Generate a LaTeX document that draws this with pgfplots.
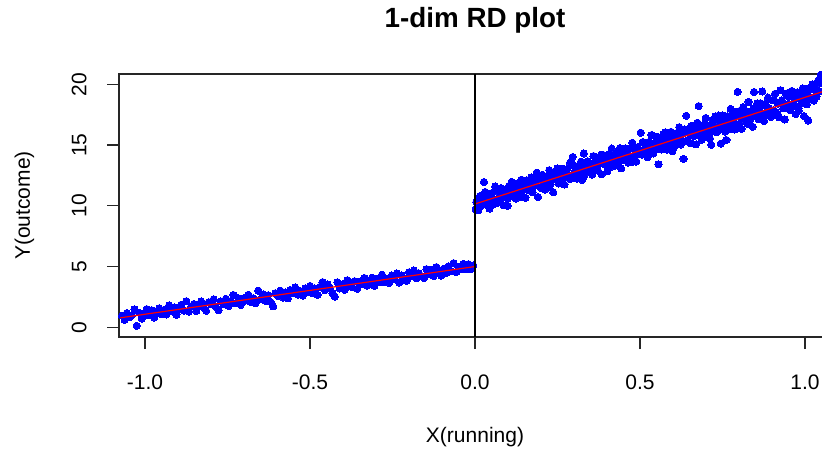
\documentclass[border=0pt]{standalone}
\usepackage{pgfplots}
\pgfplotsset{compat=1.18}
\usepackage{pgfplotstable}
\usepackage{fontspec}
\setmainfont{Liberation Sans}

\pgfplotstableread{
x y
-1.070 0.95
-1.062 0.62
-1.055 1.17
-1.047 0.84
-1.040 1.00
-1.032 1.48
-1.025 0.12
-1.017 1.18
-1.010 0.71
-1.002 1.10
-0.995 1.50
-0.987 0.98
-0.980 1.41
-0.972 0.80
-0.965 1.28
-0.957 1.57
-0.950 1.08
-0.942 1.42
-0.935 1.06
-0.927 1.81
-0.920 1.31
-0.912 1.63
-0.905 1.03
-0.897 1.49
-0.890 1.86
-0.882 1.36
-0.875 2.15
-0.867 1.30
-0.860 1.73
-0.852 1.92
-0.845 1.33
-0.837 1.76
-0.830 2.13
-0.822 1.65
-0.815 1.36
-0.807 2.07
-0.800 1.89
-0.792 2.31
-0.785 1.68
-0.777 1.40
-0.770 2.13
-0.762 1.91
-0.755 2.35
-0.747 1.75
-0.740 2.17
-0.732 2.66
-0.725 1.97
-0.717 2.39
-0.710 1.84
-0.702 2.37
-0.695 2.21
-0.687 2.68
-0.680 2.08
-0.672 2.40
-0.665 1.97
-0.657 3.02
-0.650 2.31
-0.642 2.71
-0.635 2.18
-0.627 2.64
-0.620 2.09
-0.612 1.72
-0.605 2.81
-0.597 2.58
-0.590 3.02
-0.582 2.45
-0.575 2.86
-0.567 2.38
-0.560 3.07
-0.552 2.81
-0.545 3.29
-0.537 2.68
-0.530 2.98
-0.522 2.61
-0.515 3.20
-0.507 2.89
-0.500 3.41
-0.492 2.79
-0.485 3.19
-0.477 2.67
-0.470 3.33
-0.462 3.72
-0.455 3.05
-0.447 3.53
-0.440 3.23
-0.432 2.81
-0.425 2.52
-0.417 3.71
-0.410 3.20
-0.402 3.53
-0.395 3.09
-0.387 3.88
-0.380 3.53
-0.372 3.29
-0.365 3.80
-0.357 3.17
-0.350 3.76
-0.342 3.55
-0.335 4.06
-0.327 3.42
-0.320 3.81
-0.312 4.08
-0.305 3.42
-0.297 4.00
-0.290 3.71
-0.282 4.33
-0.275 3.70
-0.267 4.00
-0.260 3.65
-0.252 4.27
-0.245 3.97
-0.237 4.43
-0.230 3.69
-0.222 4.26
-0.215 3.98
-0.207 3.82
-0.200 4.53
-0.192 4.21
-0.185 4.68
-0.177 4.04
-0.170 4.44
-0.162 4.22
-0.155 4.05
-0.147 4.79
-0.140 4.36
-0.132 4.72
-0.125 4.22
-0.117 4.96
-0.110 4.51
-0.102 4.25
-0.095 4.82
-0.087 4.48
-0.080 5.02
-0.072 4.61
-0.065 5.28
-0.057 4.54
-0.050 4.94
-0.042 4.78
-0.035 5.22
-0.027 4.77
-0.020 5.20
-0.012 4.79
-0.005 5.08
}\leftdata

\pgfplotstableread{
x y
0.002 9.72
0.006 10.43
0.010 9.63
0.015 10.81
0.019 10.37
0.023 10.07
0.027 11.96
0.031 11.14
0.036 10.35
0.040 10.84
0.044 9.77
0.048 10.66
0.052 11.07
0.057 10.30
0.061 11.60
0.065 10.54
0.069 10.24
0.073 11.07
0.078 11.46
0.082 10.83
0.086 10.05
0.090 11.33
0.094 11.10
0.099 10.00
0.103 11.64
0.107 10.78
0.111 11.97
0.115 10.95
0.120 11.35
0.124 10.58
0.128 11.72
0.132 11.33
0.136 10.87
0.141 12.15
0.145 11.28
0.149 11.77
0.153 10.67
0.157 12.09
0.162 11.30
0.166 11.70
0.170 12.33
0.174 11.11
0.178 11.93
0.183 11.67
0.187 12.73
0.191 10.72
0.195 12.23
0.199 11.49
0.204 12.56
0.208 12.02
0.212 11.33
0.216 12.33
0.220 11.90
0.225 12.94
0.229 11.79
0.233 12.33
0.237 11.12
0.241 12.76
0.246 12.25
0.250 13.07
0.254 11.84
0.258 12.60
0.262 12.17
0.267 13.06
0.271 11.75
0.275 12.60
0.279 13.03
0.283 12.48
0.288 13.55
0.292 12.27
0.296 14.02
0.300 12.71
0.304 13.16
0.309 12.24
0.313 13.09
0.317 12.69
0.321 13.63
0.325 12.13
0.330 14.31
0.334 13.15
0.338 12.73
0.342 13.67
0.346 13.07
0.351 13.47
0.355 12.56
0.359 14.10
0.363 13.01
0.367 13.49
0.372 12.90
0.376 13.90
0.380 13.50
0.384 12.59
0.388 14.20
0.393 13.39
0.397 13.93
0.401 12.85
0.405 14.24
0.409 13.68
0.414 14.71
0.418 13.38
0.422 14.03
0.426 13.32
0.430 14.31
0.435 13.82
0.439 14.75
0.443 13.08
0.447 14.34
0.451 13.78
0.456 14.73
0.460 14.25
0.464 13.56
0.468 14.70
0.472 14.07
0.477 15.19
0.481 13.89
0.485 14.55
0.489 13.64
0.493 14.84
0.498 14.41
0.502 16.02
0.506 14.22
0.510 15.24
0.514 14.65
0.519 14.98
0.523 14.00
0.527 15.26
0.531 14.56
0.535 15.83
0.540 14.34
0.544 15.02
0.548 14.65
0.552 15.69
0.556 13.41
0.561 15.29
0.565 14.64
0.569 15.71
0.573 15.11
0.577 16.05
0.582 14.62
0.586 15.62
0.590 15.15
0.594 16.09
0.598 14.50
0.603 15.63
0.607 15.12
0.611 15.99
0.615 15.53
0.619 16.48
0.624 15.05
0.628 15.92
0.632 13.86
0.636 16.28
0.640 17.41
0.645 15.40
0.649 15.97
0.653 15.16
0.657 16.59
0.661 15.79
0.666 16.31
0.670 15.06
0.674 16.84
0.678 18.21
0.682 15.86
0.687 16.60
0.691 15.61
0.695 16.31
0.699 17.23
0.703 15.89
0.708 16.59
0.712 15.55
0.716 15.02
0.720 17.07
0.724 16.40
0.729 17.36
0.733 16.06
0.737 16.99
0.741 16.42
0.745 15.11
0.750 17.45
0.754 16.86
0.758 16.12
0.762 15.42
0.766 17.38
0.771 16.61
0.775 17.98
0.779 16.93
0.783 17.41
0.787 16.28
0.792 17.74
0.796 19.38
0.800 16.72
0.804 17.38
0.808 16.33
0.813 18.13
0.817 17.15
0.821 17.81
0.825 16.77
0.829 18.55
0.834 17.13
0.838 17.78
0.842 16.50
0.846 19.37
0.850 17.40
0.855 18.42
0.859 17.12
0.863 18.06
0.867 17.63
0.871 19.41
0.876 16.98
0.880 18.40
0.884 17.53
0.888 18.91
0.892 18.03
0.897 17.32
0.901 18.69
0.905 17.84
0.909 19.22
0.913 17.69
0.918 18.40
0.922 17.28
0.926 19.52
0.930 18.69
0.934 18.03
0.939 17.11
0.943 19.17
0.947 18.36
0.951 18.97
0.955 17.87
0.960 19.46
0.964 18.41
0.968 18.94
0.972 17.55
0.976 19.34
0.981 17.82
0.985 18.94
0.989 18.41
0.993 19.67
0.997 17.38
1.002 19.29
1.006 18.35
1.010 17.02
1.014 19.61
1.018 18.92
1.023 20.00
1.027 18.65
1.031 19.62
1.035 18.98
1.040 20.31
1.044 19.44
1.048 20.78
0.004 10.31
0.015 9.93
0.025 10.85
0.036 10.39
0.046 10.82
0.057 10.13
0.067 11.37
0.078 10.64
0.088 10.97
0.099 10.61
0.109 11.47
0.120 11.08
0.130 11.86
0.141 10.73
0.151 11.69
0.162 11.30
0.172 12.10
0.183 11.71
0.193 12.53
0.204 11.56
0.214 12.18
0.225 11.56
0.235 12.53
0.246 12.15
0.256 12.92
0.267 12.20
0.277 12.67
0.288 12.21
0.298 13.38
0.309 12.75
0.319 13.20
0.330 12.43
0.340 13.57
0.351 12.99
0.361 13.45
0.372 12.93
0.382 14.21
0.393 13.53
0.403 14.03
0.414 13.23
0.424 14.09
0.435 13.64
0.445 14.64
0.456 14.01
0.466 14.65
0.477 13.63
0.487 14.60
0.498 14.26
0.508 15.25
0.519 14.28
0.529 14.87
0.540 14.31
0.550 15.35
0.561 14.90
0.571 15.89
0.582 14.91
0.592 15.54
0.603 14.80
0.613 16.00
0.624 15.54
0.634 16.00
0.645 15.30
0.655 16.56
0.666 15.78
0.676 16.21
0.687 15.44
0.697 16.80
0.708 16.06
0.718 16.69
0.729 16.08
0.739 17.43
0.750 16.61
0.760 17.20
0.771 16.30
0.781 17.17
0.792 16.74
0.802 17.81
0.813 17.10
0.823 17.67
0.834 16.70
0.844 18.01
0.855 17.58
0.865 18.45
0.876 17.30
0.886 18.11
0.897 17.70
0.907 18.68
0.918 17.52
0.928 18.55
0.939 18.24
0.949 19.30
0.960 18.17
0.970 18.78
0.981 18.04
0.991 19.33
1.002 18.69
1.012 19.67
1.023 18.76
1.033 19.51
1.044 20.06
}\rightdata

\begin{document}
\begin{tikzpicture}
\begin{axis}[
  set layers,
  at={(0,0)}, anchor=south west,
  scale only axis,
  width=356pt, height=131.5pt,
  xmin=-1.079, xmax=1.079,
  ymin=-0.8, ymax=20.85,
  axis line style={black!85, line width=0.6pt},
  tick style={black!85, line width=0.6pt},
  tick align=outside,
  major tick length=6pt,
  xtick pos=bottom, ytick pos=left,
  xtick={-1,-0.5,0,0.5,1},
  xticklabels={-1.0,-0.5,0.0,0.5,1.0},
  ytick={0,5,10,15,20},
  yticklabels={0,5,10,15,20},
  tick label style={font=\fontsize{10.5}{12}\selectfont},
  xticklabel style={anchor=north, inner sep=0pt},
  yticklabel style={rotate=90, anchor=south, inner sep=0pt},
  xticklabel shift=12.5pt,
  yticklabel shift=10pt,
  title={1-dim RD plot},
  title style={font=\fontsize{13.9}{16}\bfseries, at={(axis description cs:0.5,1)}, anchor=base, yshift=17.5pt},
  xlabel={X(running)},
  xlabel style={font=\fontsize{10.5}{12}\selectfont, at={(axis description cs:0.5,0)}, anchor=base, yshift=-52.5pt},
  ylabel={Y(outcome)},
  ylabel style={font=\fontsize{10.5}{12}\selectfont, at={(axis description cs:-0.125,0.5)}, anchor=base, rotate=0},
  clip=false,
]
\addplot[only marks, mark=*, mark size=1.8pt, color=blue, mark options={fill=blue, draw=blue, line width=0pt}] table[x=x, y=y] {\leftdata};
\addplot[only marks, mark=*, mark size=1.8pt, color=blue, mark options={fill=blue, draw=blue, line width=0pt}] table[x=x, y=y] {\rightdata};
\addplot[red, line width=0.6pt, on layer=axis foreground] coordinates {(-1.075,0.78) (0,5.0)};
\addplot[red, line width=0.6pt, on layer=axis foreground] coordinates {(0,10.15) (1.079,19.62)};
\addplot[black, line width=0.6pt, on layer=axis foreground] coordinates {(0,-0.8) (0,20.85)};
\end{axis}
\pgfresetboundingbox
\useasboundingbox (-59.5pt,-57.5pt) rectangle (351.5pt,168.5pt);
\end{tikzpicture}
\end{document}
